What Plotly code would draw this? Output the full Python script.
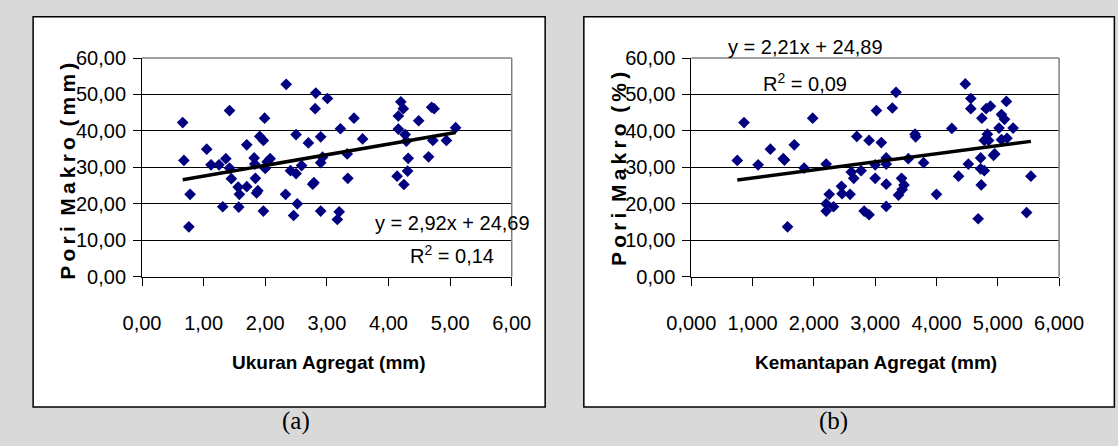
import plotly.graph_objects as go

# ---------------- data ----------------
ukuran_x = [0.66, 0.68, 0.78, 0.76, 1.05, 1.12, 1.25, 1.36, 1.42, 1.42, 1.45, 1.31, 1.56, 1.58,
            1.57, 1.70, 1.70, 1.82, 1.83, 1.84, 1.86, 1.88, 1.91, 1.97, 1.99, 2.08, 2.00, 1.97,
            2.03, 2.34, 2.33, 2.41, 2.46, 2.50, 2.50, 2.52, 2.59, 2.70, 2.77, 2.79, 2.82, 2.81,
            2.90, 2.93, 2.90, 2.90, 3.01, 3.22, 3.20, 3.17, 3.33, 3.34, 3.44, 3.58, 4.14, 4.16,
            4.16, 4.20, 4.24, 4.25, 4.27, 4.29, 4.32, 4.31, 4.49, 4.65, 4.70, 4.74, 4.72, 4.94, 5.09]
pori_a = [42.3, 31.9, 22.6, 13.7, 35.0, 30.7, 30.7, 32.4, 45.6, 29.8, 26.9, 19.2, 24.6, 22.6,
          19.1, 36.2, 24.7, 32.6, 30.9, 27.0, 23.0, 23.6, 38.5, 37.4, 43.5, 32.4, 29.7, 18.0,
          31.5, 52.8, 22.6, 29.1, 16.8, 39.0, 28.3, 20.0, 30.5, 36.7, 25.4, 25.8, 50.4, 46.1,
          38.4, 32.8, 31.3, 18.0, 48.9, 40.6, 17.8, 15.7, 33.7, 27.0, 43.5, 37.8, 27.6, 40.5,
          44.1, 48.0, 46.1, 25.3, 39.0, 37.2, 32.5, 29.0, 42.8, 32.9, 46.5, 46.1, 37.4, 37.4, 40.9]

kemantapan_x = [0.75, 0.86, 1.09, 1.29, 1.50, 1.52, 1.68, 1.57, 1.84, 1.98, 2.20, 2.25, 2.20, 2.20,
                2.32, 2.45, 2.46, 2.59, 2.61, 2.65, 2.70, 2.77, 2.82, 2.90, 2.90, 3.00, 3.00, 3.02,
                3.10, 3.18, 3.18, 3.18, 3.18, 3.28, 3.34, 3.38, 3.43, 3.47, 3.44, 3.54, 3.65, 3.66,
                3.79, 4.00, 4.25, 4.36, 4.47, 4.52, 4.56, 4.56, 4.68, 4.72, 4.72, 4.73, 4.74, 4.78,
                4.78, 4.81, 4.83, 4.85, 4.88, 4.93, 4.95, 5.02, 5.06, 5.06, 5.11, 5.14, 5.15, 5.25,
                5.47, 5.54]
pori_b = [31.9, 42.3, 30.7, 35.0, 32.4, 32.0, 36.2, 13.7, 29.8, 43.5, 30.9, 22.6, 20.0, 18.0,
          19.2, 24.8, 22.8, 22.6, 28.7, 27.0, 38.5, 29.1, 18.0, 17.0, 37.4, 27.0, 30.7, 45.6,
          36.8, 32.6, 30.9, 25.4, 19.3, 46.3, 50.6, 22.4, 27.0, 25.2, 23.9, 32.4, 39.1, 38.4,
          31.3, 22.6, 40.7, 27.6, 52.9, 30.9, 48.9, 46.1, 15.9, 32.6, 29.6, 25.2, 43.5, 29.1,
          37.4, 46.1, 39.1, 37.4, 46.8, 33.3, 33.7, 40.8, 44.5, 37.6, 43.2, 48.1, 38.0, 40.8,
          17.6, 27.6]

# trend-line equations printed on the chart
slope_a, intercept_a = 2.92, 24.69
slope_b, intercept_b = 2.21, 24.89

x_ticks = [0, 1, 2, 3, 4, 5, 6]
x_text_a = ["0,00", "1,00", "2,00", "3,00", "4,00", "5,00", "6,00"]
x_text_b = ["0,000", "1,000", "2,000", "3,000", "4,000", "5,000", "6,000"]
y_ticks = [0, 10, 20, 30, 40, 50, 60]
y_text = ["0,00", "10,00", "20,00", "30,00", "40,00", "50,00", "60,00"]

eq_a = "y = 2,92x + 24,69"
r2_a = "R<sup>2</sup> = 0,14"
eq_b = "y = 2,21x + 24,89"
r2_b = "R<sup>2</sup> = 0,09"

# ---------------- layout helpers ----------------
W, H = 1118, 446
def px(x):
    return x / W
def py(y):
    return 1 - y / H

ARIAL = "Liberation Sans, Arial, sans-serif"
NAVY = "#000080"

dom_a = [px(122.5), px(509.5)]
dom_b = [px(697.5), px(1082.5)]
dom_y = [py(279.5), py(49.5)]

fig = go.Figure()

fig.add_trace(go.Scatter(x=ukuran_x, y=pori_a, mode="markers", xaxis="x", yaxis="y",
                         marker=dict(symbol="diamond", size=9, color=NAVY, line=dict(width=0)),
                         showlegend=False, hoverinfo="skip"))
xa = [min(ukuran_x), max(ukuran_x)]
fig.add_trace(go.Scatter(x=xa, y=[slope_a * v + intercept_a for v in xa], mode="lines",
                         xaxis="x", yaxis="y", line=dict(color="black", width=3.5),
                         showlegend=False, hoverinfo="skip"))

fig.add_trace(go.Scatter(x=kemantapan_x, y=pori_b, mode="markers", xaxis="x2", yaxis="y2",
                         marker=dict(symbol="diamond", size=9, color=NAVY, line=dict(width=0)),
                         showlegend=False, hoverinfo="skip"))
xb = [min(kemantapan_x), max(kemantapan_x)]
fig.add_trace(go.Scatter(x=xb, y=[slope_b * v + intercept_b for v in xb], mode="lines",
                         xaxis="x2", yaxis="y2", line=dict(color="black", width=3.5),
                         showlegend=False, hoverinfo="skip"))

tickfont = dict(family=ARIAL, size=20, color="black")

def xaxis(domain, anchor, ttext):
    return dict(domain=domain, anchor=anchor, range=[0, 6], tickvals=x_ticks, ticktext=ttext,
                showgrid=False, zeroline=False, showline=True, linecolor="black", linewidth=1,
                ticks="outside", ticklen=8, tickcolor="black", tickwidth=1, tickangle=0,
                tickfont=tickfont, ticklabelstandoff=20, fixedrange=True)

def yaxis(anchor):
    return dict(domain=dom_y, anchor=anchor, range=[0, 60], tickvals=y_ticks, ticktext=y_text,
                showgrid=True, gridcolor="black", gridwidth=1, zeroline=False,
                showline=True, linecolor="black", linewidth=1,
                ticks="outside", ticklen=8, tickcolor="black", tickwidth=1,
                tickfont=tickfont, ticklabelstandoff=3, fixedrange=True)

shapes = [
    dict(type="rect", xref="paper", yref="paper", x0=px(8.5), x1=px(544.5), y0=py(416.5), y1=py(6),
         line=dict(color="black", width=1.5), fillcolor="white", layer="below"),
    dict(type="rect", xref="paper", yref="paper", x0=px(585), x1=1.02, y0=py(416.5), y1=py(6),
         line=dict(color="black", width=1.5), fillcolor="white", layer="below"),
]
for d in (dom_a, dom_b):
    shapes.append(dict(type="line", xref="paper", yref="paper", x0=d[0], x1=d[1], y0=dom_y[1], y1=dom_y[1],
                       line=dict(color="#808080", width=1.5), layer="above"))
    shapes.append(dict(type="line", xref="paper", yref="paper", x0=d[1], x1=d[1], y0=dom_y[0], y1=dom_y[1],
                       line=dict(color="#808080", width=1.5), layer="above"))

def ann(text, x, y, size, family, bold=False, angle=0):
    return dict(text=("<b>%s</b>" % text) if bold else text, x=px(x), y=py(y), xref="paper", yref="paper",
                showarrow=False, xanchor="center", yanchor="middle", textangle=angle,
                font=dict(family=family, size=size, color="black"))

ts = "\u2009"
ws = "\u2002"
ytitle_a = ts.join("Pori") + ws + ts.join("Makro") + ws + ts.join("(mm)")
ytitle_b = ts.join("Pori") + ws + ts.join("Makro") + ws + ts.join("(%)")

annotations = [
    ann(eq_a, 447, 223, 20, ARIAL),
    ann(r2_a, 447, 256, 20, ARIAL),
    ann(eq_b, 817, 38, 20, ARIAL),
    ann(r2_b, 817, 75, 20, ARIAL),
    ann("Ukuran Agregat (mm)", 318, 370, 19, ARIAL, bold=True),
    ann("Kemantapan Agregat (mm)", 891, 370, 19, ARIAL, bold=True),
    ann(ytitle_a, 45, 168, 21, ARIAL, bold=True, angle=-90),
    ann(ytitle_b, 622, 166, 21, ARIAL, bold=True, angle=-90),
    ann("(a)", 284, 431, 25, "Liberation Serif, Times New Roman, serif"),
    ann("(b)", 846, 431, 25, "Liberation Serif, Times New Roman, serif"),
]

fig.update_layout(
    width=W, height=H, margin=dict(l=0, r=0, t=0, b=0),
    paper_bgcolor="#d9d9d9", plot_bgcolor="#c0c0c0",
    xaxis=xaxis(dom_a, "y", x_text_a),
    yaxis=yaxis("x"),
    xaxis2=xaxis(dom_b, "y2", x_text_b),
    yaxis2=yaxis("x2"),
    shapes=shapes, annotations=annotations, showlegend=False,
)

fig.write_html("out.html", config={"displayModeBar": False})
